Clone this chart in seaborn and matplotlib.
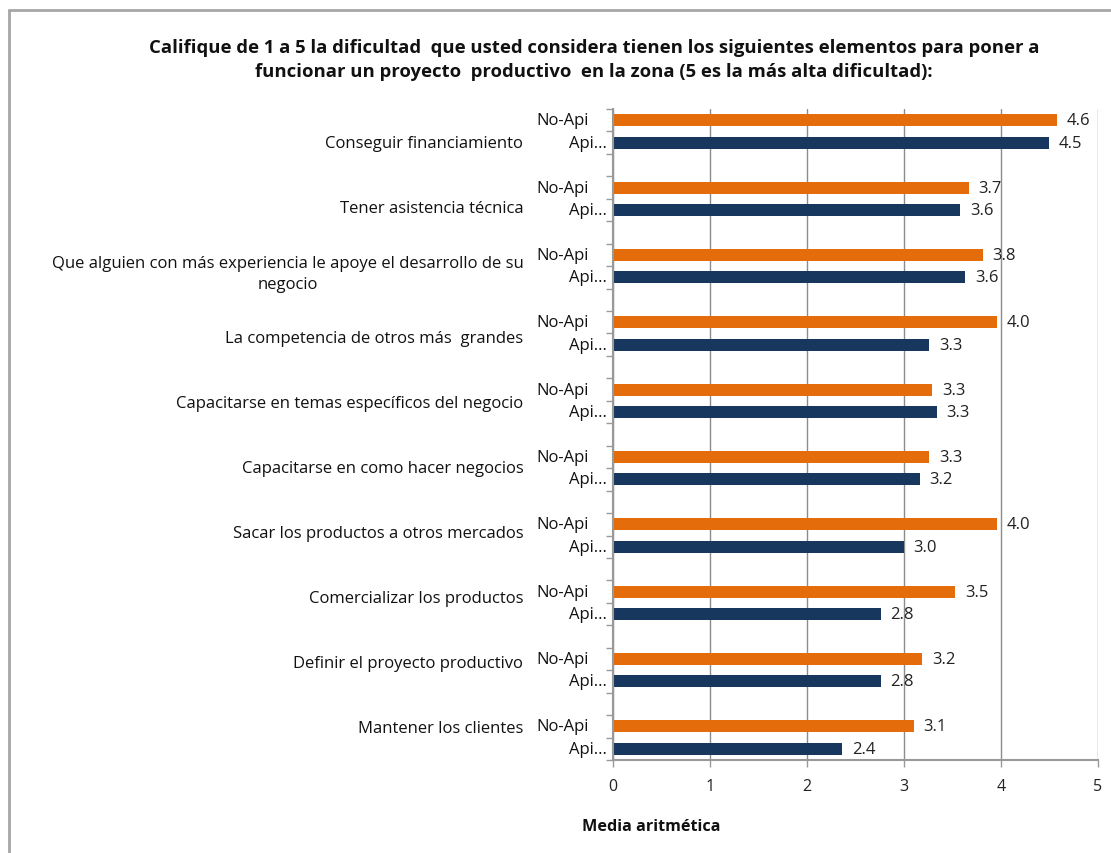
import matplotlib
matplotlib.use("Agg")
import matplotlib.pyplot as plt
import pandas as pd
import seaborn as sns
from matplotlib.lines import Line2D
from matplotlib.ticker import FixedLocator

# data
categories = [
    "Conseguir financiamiento",
    "Tener asistencia técnica",
    "Que alguien con más experiencia le apoye el desarrollo de su\nnegocio",
    "La competencia de otros más  grandes",
    "Capacitarse en temas específicos del negocio",
    "Capacitarse en como hacer negocios",
    "Sacar los productos a otros mercados",
    "Comercializar los productos",
    "Definir el proyecto productivo",
    "Mantener los clientes",
]
no_api = [4.58, 3.67, 3.81, 3.96, 3.29, 3.26, 3.96, 3.53, 3.19, 3.10]
api = [4.49, 3.58, 3.63, 3.26, 3.34, 3.16, 3.00, 2.76, 2.76, 2.36]
series_names = ["No-Api", "Api..."]
xticks = [0, 1, 2, 3, 4, 5]

title = ("Califique de 1 a 5 la dificultad  que usted considera tienen los siguientes elementos para poner a\n"
         "funcionar un proyecto  productivo  en la zona (5 es la más alta dificultad):")

c_orange = "#E46C0A"
c_navy = "#17375E"

sns.set_theme(style="white")
plt.rcParams['font.family'] = ['Open Sans', 'DejaVu Sans']

# each group takes 3 slots: No-Api, Api, blank
rows = []
for i, cat in enumerate(categories):
    rows.append({"pos": 3 * i, "value": no_api[i], "serie": series_names[0]})
    rows.append({"pos": 3 * i + 1, "value": api[i], "serie": series_names[1]})
df = pd.DataFrame(rows)

fig = plt.figure(figsize=(11.11, 8.54), dpi=100)
ax = fig.add_axes([613 / 1111, 1 - 761 / 854, 485 / 1111, (761 - 110) / 854])

sns.barplot(data=df, x="value", y="pos", hue="serie", orient="h", native_scale=True,
            dodge=False, width=0.54, palette=[c_orange, c_navy], saturation=1,
            legend=False, edgecolor="none", ax=ax)

nslots = 3 * len(categories) - 1
ax.set_ylim(nslots - 0.5, -0.5)
ax.set_xlim(0, 5)
ax.set_xticks(xticks)
ax.set_xticklabels([str(t) for t in xticks], fontsize=11.5, color="#222222")
ax.set_yticks([])
ax.yaxis.set_minor_locator(FixedLocator([k - 0.5 for k in range(nslots + 1)]))
ax.tick_params(axis="y", which="minor", left=True, length=5, color="#999999", width=1)
ax.tick_params(axis="x", bottom=True, length=5, color="#999999", width=1, pad=8)
ax.set_xlabel("")
ax.set_ylabel("")
ax.grid(axis="x", color="#8c8c8c", linewidth=1)
ax.set_axisbelow(True)
for side in ["top", "right"]:
    ax.spines[side].set_visible(False)
for side in ["left", "bottom"]:
    ax.spines[side].set_color("#999999")
    ax.spines[side].set_linewidth(1.5)

trans = ax.get_yaxis_transform()
for i, cat in enumerate(categories):
    ax.text(-0.103, 3 * i, series_names[0], transform=trans, ha="center", va="center",
            fontsize=12, color="#111111")
    ax.text(-0.012, 3 * i + 1, series_names[1], transform=trans, ha="right", va="center",
            fontsize=12, color="#111111")
    # outer labels are spread evenly down the axis, as Excel does
    yf = 1 - (0.0525 + i * (0.951 - 0.0525) / (len(categories) - 1))
    ax.text(-0.185, yf, cat, transform=ax.transAxes, ha="right", va="center",
            multialignment="center", fontsize=12, color="#111111", linespacing=1.4)

for bar in ax.patches:
    w = bar.get_width()
    if w <= 0:
        continue
    y = bar.get_y() + bar.get_height() / 2
    ax.annotate(f"{w:.1f}", (w, y), xytext=(7, 0), textcoords="offset points",
                ha="left", va="center", fontsize=12, color="#222222")

fig.text(594 / 1111, 1 - 60 / 854, title, ha="center", va="center", fontsize=13.3,
         fontweight="bold", linespacing=1.4, color="#111111")
fig.text(651 / 1111, 1 - 827 / 854, "Media aritmética", ha="center", va="center",
         fontsize=11.6, fontweight="bold", color="#111111")

# outer frame (top and left edges visible)
fig.add_artist(Line2D([9 / 1111, 9 / 1111], [0, 1 - 11 / 854], transform=fig.transFigure,
                      color="#a6a6a6", linewidth=2))
fig.add_artist(Line2D([9 / 1111, 1], [1 - 11 / 854, 1 - 11 / 854], transform=fig.transFigure,
                      color="#a6a6a6", linewidth=2))

fig.savefig("out.png", dpi=100)
